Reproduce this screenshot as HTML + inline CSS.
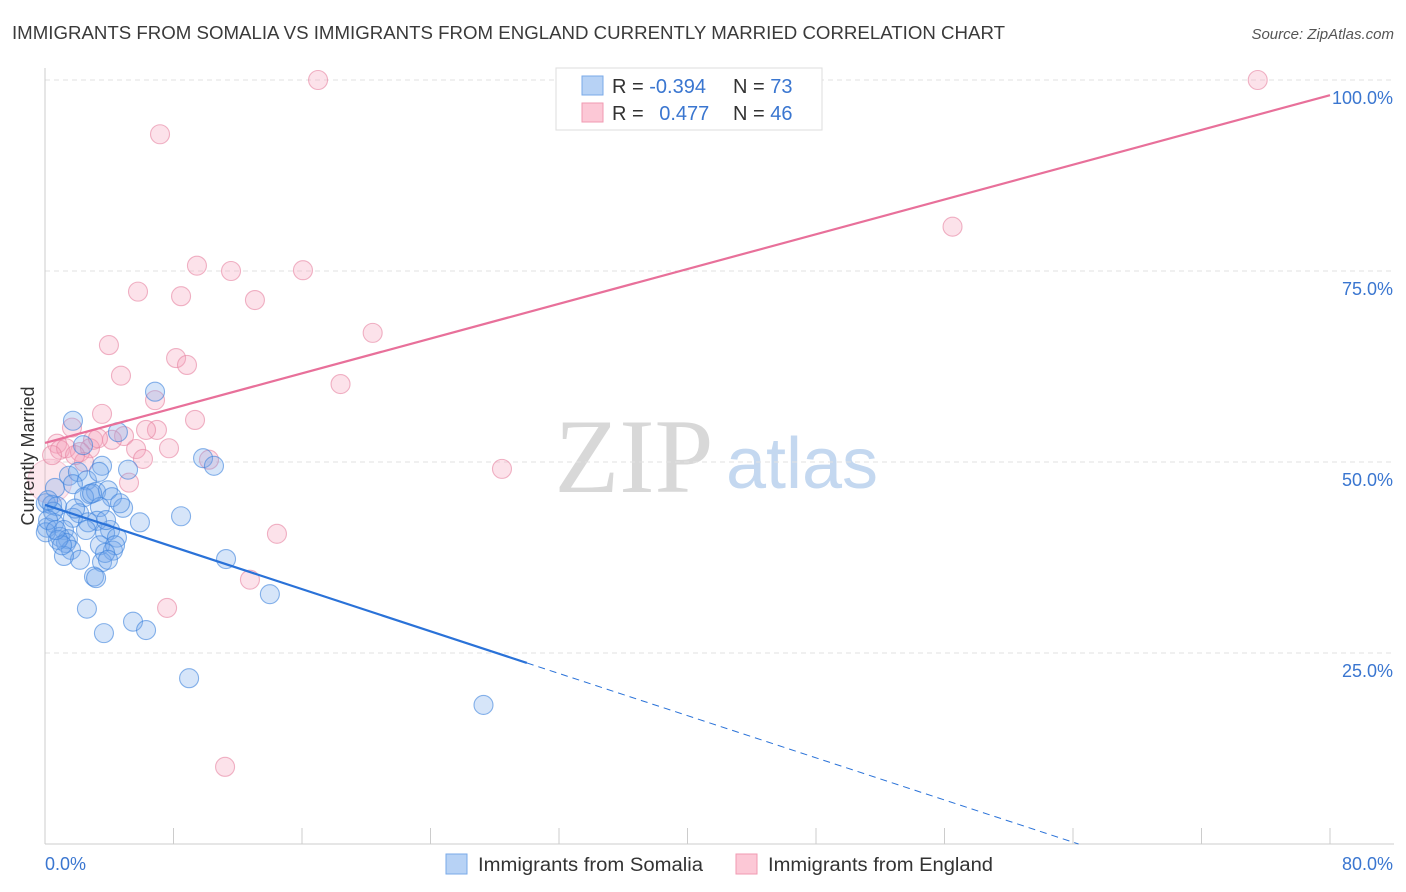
<!DOCTYPE html>
<html><head><meta charset="utf-8"><style>
body{margin:0;background:#fff;font-family:"Liberation Sans",sans-serif;}
svg{display:block}
</style></head><body>
<svg id="chart" width="1406" height="892" viewBox="0 0 1406 892" xmlns="http://www.w3.org/2000/svg">
<text x="12" y="39" font-size="18" fill="#3a3a3a" font-family="Liberation Sans" textLength="993" lengthAdjust="spacingAndGlyphs">IMMIGRANTS FROM SOMALIA VS IMMIGRANTS FROM ENGLAND CURRENTLY MARRIED CORRELATION CHART</text>
<text x="1394" y="39" font-size="15" fill="#555" text-anchor="end" font-style="italic">Source: ZipAtlas.com</text>
<g>
<text x="634" y="492" font-size="106" fill="#d8d8d8" text-anchor="middle" font-family="Liberation Serif">ZIP</text>
<text x="802" y="488" font-size="72" fill="#c4d8f0" text-anchor="middle">atlas</text>
</g>
<g id="grid"></g>
<g id="axes"></g>
<g id="marks"></g>
<g>
<rect x="556" y="68" width="266" height="62" fill="#fff" stroke="#ddd"/>
<rect x="582" y="76" width="21" height="19" fill="#b7d2f5" stroke="#7aaae8"/>
<rect x="582" y="103" width="21" height="19" fill="#fcc8d6" stroke="#f09ab2"/>
<text x="612" y="93" font-size="20" fill="#333">R = <tspan fill="#3a76d0">-0.394</tspan></text>
<text x="733" y="93" font-size="20" fill="#333">N = <tspan fill="#3a76d0">73</tspan></text>
<text x="612" y="120" font-size="20" fill="#333">R = <tspan fill="#3a76d0" dx="10">0.477</tspan></text>
<text x="733" y="120" font-size="20" fill="#333">N = <tspan fill="#3a76d0">46</tspan></text>
</g>
<g>
<rect x="446" y="854" width="21" height="20" fill="#b7d2f5" stroke="#7aaae8"/>
<text x="478" y="871" font-size="19" fill="#333" textLength="225" lengthAdjust="spacingAndGlyphs">Immigrants from Somalia</text>
<rect x="736" y="854" width="21" height="20" fill="#fcc8d6" stroke="#f09ab2"/>
<text x="768" y="871" font-size="19" fill="#333" textLength="225" lengthAdjust="spacingAndGlyphs">Immigrants from England</text>
</g>
<text transform="translate(34,456) rotate(-90)" font-size="18" fill="#333" text-anchor="middle">Currently Married</text>
</svg>
<script>
const yTicks=[25,50,75,100];
const yTickLabels=["25.0%","50.0%","75.0%","100.0%"];
const xTickLabels=["0.0%","80.0%"];
const somaliaX=[6.85,1.74,4.54,2.37,9.84,10.52,3.55,5.17,1.49,2.05,2.61,0.62,1.74,2.80,3.18,3.92,4.17,2.43,0.05,0.44,0.75,4.86,3.42,2.12,1.74,8.47,3.24,5.91,2.68,0.56,0.12,1.18,4.05,0.93,1.43,3.74,4.48,0.05,3.42,4.23,1.31,1.62,2.18,1.18,3.55,11.27,3.05,3.18,14.0,2.61,5.48,6.29,3.67,8.97,27.3,0.5,0.19,0.81,1.06,2.93,4.36,3.74,1.87,0.68,0.19,2.55,3.80,3.92,4.67,3.36];
const somaliaY=[59.2,55.4,53.9,52.2,50.5,49.5,49.5,49.0,48.2,48.7,47.6,46.6,47.1,45.8,46.1,46.3,45.4,45.4,44.6,44.4,44.2,44.0,44.1,43.3,42.7,42.9,42.3,42.1,42.1,42.0,41.4,41.1,41.1,40.2,39.9,40.7,40.1,40.8,39.1,38.4,39.4,38.5,37.2,37.7,36.9,37.3,35.0,34.8,32.7,30.8,29.1,28.0,27.6,21.7,18.2,43.5,42.4,39.8,39.1,45.9,39.1,38.1,43.9,41.1,45.0,41.1,42.4,37.2,44.6,48.7];
const englandX=[17.0,75.5,7.16,56.5,9.46,11.58,16.06,5.79,8.47,13.07,20.4,3.98,8.16,8.84,4.73,18.4,6.85,9.34,3.55,1.68,6.97,6.29,4.92,2.99,4.17,0.75,2.80,0.93,1.31,2.18,7.72,5.67,6.10,10.21,28.45,2.43,5.23,14.44,12.76,7.60,11.21,3.30,1.87,0.44];
const englandY=[100,100,92.9,80.8,75.7,75.0,75.1,72.3,71.7,71.2,66.9,65.3,63.6,62.7,61.3,60.2,58.1,55.5,56.3,54.5,54.2,54.2,53.4,52.9,52.9,52.4,51.8,51.6,51.8,51.3,51.8,51.7,50.4,50.3,49.1,50.0,47.3,40.6,34.6,30.9,10.1,53.1,50.9,50.9];
const somaliaTrend=[44.4,-0.69];
const englandTrend=[52.5,0.569];
const NS="http://www.w3.org/2000/svg";
const X0=45,X1=1330,Y0=844,Y1=80;
const sx=v=>X0+(v/80)*(X1-X0);
const sy=v=>Y0-(v/100)*(Y0-Y1);
function mk(tag,attrs,parent){const e=document.createElementNS(NS,tag);for(const k in attrs)e.setAttribute(k,attrs[k]);parent.appendChild(e);return e;}
const grid=document.getElementById('grid'),axes=document.getElementById('axes'),marks=document.getElementById('marks');
yTicks.forEach((t,i)=>{
 const l=mk('line',{x1:X0,x2:1394,y1:sy(t),y2:sy(t),stroke:'#e2e2e2','stroke-dasharray':'5,4'},grid);
 
 
 const tx=mk('text',{x:1393,y:sy(t)+24,'font-size':18,fill:'#3a76d0','text-anchor':'end'},axes);
 tx.textContent=yTickLabels[i];
 
 
});
const yl=mk('line',{x1:X0,x2:X0,y1:68,y2:Y0,stroke:'#ccc'},axes);


const xl=mk('line',{x1:X0,x2:1394,y1:Y0,y2:Y0,stroke:'#ccc'},axes);


for(let i=0;i<=10;i++){
 const t=mk('line',{x1:sx(i*8),x2:sx(i*8),y1:828,y2:Y0,stroke:'#ccc'},axes);
 
 
}
const xa=mk('text',{x:45,y:870,'font-size':18,fill:'#3a76d0'},axes);xa.textContent=xTickLabels[0];


const xb=mk('text',{x:1393,y:870,'font-size':18,fill:'#3a76d0','text-anchor':'end'},axes);xb.textContent=xTickLabels[1];


const bp=mk('circle',{cx:sx(0.3),cy:sy(47.5),r:22,fill:'rgba(245,160,185,0.25)',stroke:'rgba(235,140,170,0.4)'},marks);


englandX.forEach((x,i)=>{
 const c=mk('circle',{cx:sx(x),cy:sy(englandY[i]),r:9.5,fill:'rgba(245,160,185,0.3)',stroke:'rgba(230,130,160,0.6)','stroke-width':1.1},marks);
 
 
});
somaliaX.forEach((x,i)=>{
 const c=mk('circle',{cx:sx(x),cy:sy(somaliaY[i]),r:9.5,fill:'rgba(120,170,235,0.3)',stroke:'rgba(60,130,220,0.6)','stroke-width':1.1},marks);
 
 
});
const tb=(x)=>somaliaTrend[0]+somaliaTrend[1]*x;
const te=(x)=>englandTrend[0]+englandTrend[1]*x;
const s1=mk('line',{x1:sx(0),y1:sy(tb(0)),x2:sx(30),y2:sy(tb(30)),stroke:'#2a72d8','stroke-width':2.2},marks);


const xEnd=-somaliaTrend[0]/somaliaTrend[1];
const s2=mk('line',{x1:sx(30),y1:sy(tb(30)),x2:sx(xEnd),y2:sy(0),stroke:'#2a72d8','stroke-width':1,'stroke-dasharray':'7,5'},marks);


const e1=mk('line',{x1:sx(0),y1:sy(te(0)),x2:sx(80),y2:sy(te(80)),stroke:'#e8709a','stroke-width':2.2},marks);


</script>
</body></html>
